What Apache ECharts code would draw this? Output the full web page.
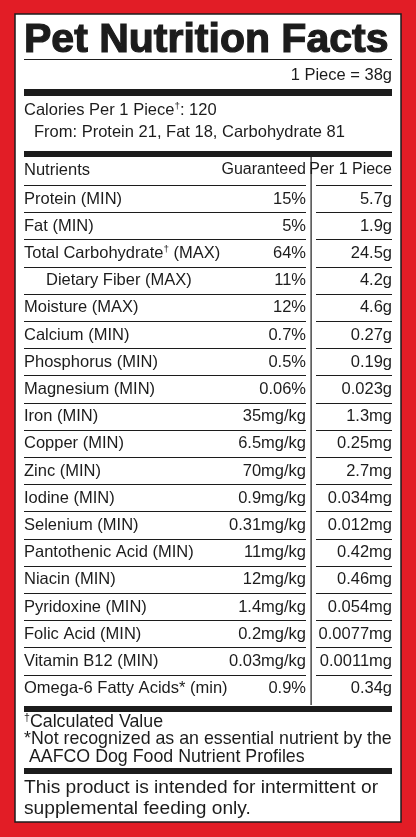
<!DOCTYPE html>
<html><head><meta charset="utf-8">
<script src="https://cdn.jsdelivr.net/npm/echarts@6/dist/echarts.min.js"></script>
<style>html,body{margin:0;padding:0;background:#e21d26}#c{width:416px;height:837px}</style>
</head><body><div id="c"></div>
<script>
const title = 'Pet Nutrition Facts';
const serving = '1 Piece = 38g';
const calories = 'Calories Per 1 Piece{s|\u2020}: 120';
const caloriesFrom = 'From: Protein 21, Fat 18, Carbohydrate 81';
const headers = ['Nutrients', 'Guaranteed', 'Per 1 Piece'];
const nutrients = ['Protein (MIN)','Fat (MIN)','Total Carbohydrate{s|\u2020} (MAX)','Dietary Fiber (MAX)','Moisture (MAX)','Calcium (MIN)','Phosphorus (MIN)','Magnesium (MIN)','Iron (MIN)','Copper (MIN)','Zinc (MIN)','Iodine (MIN)','Selenium (MIN)','Pantothenic Acid (MIN)','Niacin (MIN)','Pyridoxine (MIN)','Folic Acid (MIN)','Vitamin B12 (MIN)','Omega-6 Fatty Acids* (min)'];
const guaranteed = ['15%','5%','64%','11%','12%','0.7%','0.5%','0.06%','35mg/kg','6.5mg/kg','70mg/kg','0.9mg/kg','0.31mg/kg','11mg/kg','12mg/kg','1.4mg/kg','0.2mg/kg','0.03mg/kg','0.9%'];
const perPiece = ['5.7g','1.9g','24.5g','4.2g','4.6g','0.27g','0.19g','0.023g','1.3mg','0.25mg','2.7mg','0.034mg','0.012mg','0.42mg','0.46mg','0.054mg','0.0077mg','0.0011mg','0.34g'];
const indented = [3];
const footnotes = ['{s|\u2020}Calculated Value','*Not recognized as an essential nutrient by the',' AAFCO Dog Food Nutrient Profiles'];
const disclaimer = ['This product is intended for intermittent or','supplemental feeding only.'];

const F = 'Liberation Sans, Arial, sans-serif';
const C = '#1c1c1c';
const L = 24, R = 392, DIV = 311;
const g = [];
function txt(x,y,s,opt){
  const fs=(opt&&opt.fs)||16.5;
  const st=Object.assign({text:s,fill:C,font:fs+'px '+F,verticalAlign:'middle',
    rich:{s:{fontSize:fs*0.6,fontFamily:F,verticalAlign:'top',padding:[0,0,fs*0.45,0],fill:C}}},opt||{});
  delete st.fs;
  g.push({type:'text',x:x,y:y,style:st});
}
function rect(x,y,w,h){g.push({type:'rect',shape:{x:x,y:y,width:w,height:h},style:{fill:C}});}
g.push({type:'rect',shape:{x:15,y:14,width:386,height:808},style:{fill:'#fff',stroke:C,lineWidth:1.5}});
g.push({type:'text',x:24,y:41,style:{text:title,fill:C,font:'bold 41px '+F,verticalAlign:'middle',stroke:C,lineWidth:1.2}});
rect(L,59,R-L,1);
txt(R,75,serving,{align:'right'});
rect(L,89,R-L,7);
txt(L,110,calories);
txt(L+10,132,caloriesFrom);
rect(L,151,R-L,6);
txt(L,170,headers[0]);
txt(DIV-5,170,headers[1],{align:'right',fs:16});
txt(R,170,headers[2],{align:'right',fs:16});
rect(DIV-0.5,157,1.2,548);
const y0=199, dy=27.2;
for(let i=-1;i<nutrients.length-1;i++){
  const ly=Math.round(y0+dy*i+dy/2-0.5);
  rect(L,ly,DIV-5-L,1); rect(DIV+5,ly,R-DIV-5,1);
}
nutrients.forEach((n,i)=>{
  const y=y0+dy*i;
  txt(indented.includes(i)?L+22:L,y,n);
  txt(DIV-5,y,guaranteed[i],{align:'right'});
  txt(R,y,perPiece[i],{align:'right'});
});
rect(L,706,R-L,6);
footnotes.forEach((s,i)=>txt(L,722+i*17.5,s,{fs:17.8}));
rect(L,768,R-L,6);
disclaimer.forEach((s,i)=>txt(L,788+i*21,s,{fs:19.2}));

const chart=echarts.init(document.getElementById('c'),null,{renderer:'canvas'});
chart.setOption({backgroundColor:'#e21d26',animation:false,graphic:{elements:g}});
</script></body></html>
